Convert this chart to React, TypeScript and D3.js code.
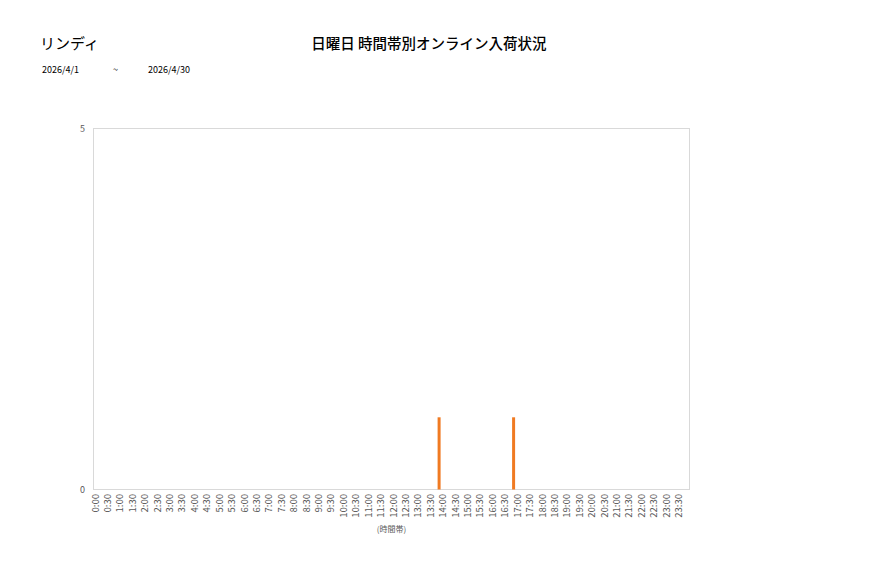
import React, { useEffect, useRef } from 'react';
import * as d3 from 'd3';

const storeName = 'リンディ';
const chartTitle = '日曜日 時間帯別オンライン入荷状況';
const dateFrom = '2026/4/1';
const dateTo = '2026/4/30';
const xAxisTitle = '(時間帯)';

const timeLabels = [
  '0:00', '0:30', '1:00', '1:30', '2:00', '2:30', '3:00', '3:30',
  '4:00', '4:30', '5:00', '5:30', '6:00', '6:30', '7:00', '7:30',
  '8:00', '8:30', '9:00', '9:30', '10:00', '10:30', '11:00', '11:30',
  '12:00', '12:30', '13:00', '13:30', '14:00', '14:30', '15:00', '15:30',
  '16:00', '16:30', '17:00', '17:30', '18:00', '18:30', '19:00', '19:30',
  '20:00', '20:30', '21:00', '21:30', '22:00', '22:30', '23:00', '23:30',
];
const yTickLabels = [0, 5];

// arrivals (time of day, count)
const arrivalTimes = ['13:55', '16:55'];
const arrivalCounts = [1, 1];

const toMinutes = (t: string) => {
  const [h, m] = t.split(':').map(Number);
  return h * 60 + m;
};

const App: React.FC = () => {
  const ref = useRef<SVGSVGElement | null>(null);

  useEffect(() => {
    const W = 877;
    const H = 578;
    const plot = { left: 93.5, top: 128.5, right: 689.5, bottom: 489.5 };
    const font = '"Noto Sans CJK JP", "Noto Sans", sans-serif';

    const svg = d3.select(ref.current);
    svg.selectAll('*').remove();
    svg.attr('width', W).attr('height', H);

    svg.append('rect').attr('width', W).attr('height', H).attr('fill', '#fff');

    const x = d3.scaleLinear().domain([0, 24 * 60]).range([plot.left, plot.right]);
    const y = d3.scaleLinear().domain([0, 5]).range([plot.bottom, plot.top]);

    // headings
    svg.append('text')
      .attr('x', 40).attr('y', 49)
      .attr('font-family', font).attr('font-size', 15)
      .attr('fill', '#000')
      .text(storeName);
    svg.append('text')
      .attr('x', 429).attr('y', 49)
      .attr('text-anchor', 'middle')
      .attr('font-family', font).attr('font-size', 14.5)
      .attr('font-weight', 500)
      .attr('fill', '#000')
      .text(chartTitle);
    const sub = svg.append('g').attr('font-family', font).attr('font-size', 9).attr('fill', '#000');
    sub.append('text').attr('x', 42).attr('y', 73).text(dateFrom);
    sub.append('text').attr('x', 113).attr('y', 73).text('~');
    sub.append('text').attr('x', 148).attr('y', 73).text(dateTo);

    // plot frame
    svg.append('rect')
      .attr('x', plot.left).attr('y', plot.top)
      .attr('width', plot.right - plot.left)
      .attr('height', plot.bottom - plot.top)
      .attr('fill', '#fff')
      .attr('stroke', '#d9d9d9')
      .attr('stroke-width', 1);

    // y tick labels
    svg.append('g')
      .selectAll('text')
      .data(yTickLabels)
      .enter()
      .append('text')
      .attr('x', 85)
      .attr('y', (d) => y(d) + 3)
      .attr('text-anchor', 'end')
      .attr('font-family', font).attr('font-size', 9)
      .attr('fill', '#595959')
      .text((d) => d);

    // x tick labels
    svg.append('g')
      .selectAll('text')
      .data(timeLabels)
      .enter()
      .append('text')
      .attr('transform', (d) => `translate(${x(toMinutes(d)) + 5},494) rotate(-90)`)
      .attr('text-anchor', 'end')
      .attr('font-family', font).attr('font-size', 9.5)
      .attr('fill', '#595959')
      .text((d) => d);

    svg.append('text')
      .attr('x', 391.5).attr('y', 532)
      .attr('text-anchor', 'middle')
      .attr('font-family', font).attr('font-size', 8)
      .attr('fill', '#595959')
      .text(xAxisTitle);

    // arrival spikes
    svg.append('g')
      .selectAll('line')
      .data(arrivalTimes.map((t, i) => ({ t: toMinutes(t), v: arrivalCounts[i] })))
      .enter()
      .append('line')
      .attr('x1', (d) => x(d.t))
      .attr('x2', (d) => x(d.t))
      .attr('y1', y(0))
      .attr('y2', (d) => y(d.v))
      .attr('stroke', '#f07a22')
      .attr('stroke-width', 3);
  }, []);

  return <svg ref={ref} style={{ position: 'absolute', left: 0, top: 0, display: 'block' }} />;
};

export default App;
